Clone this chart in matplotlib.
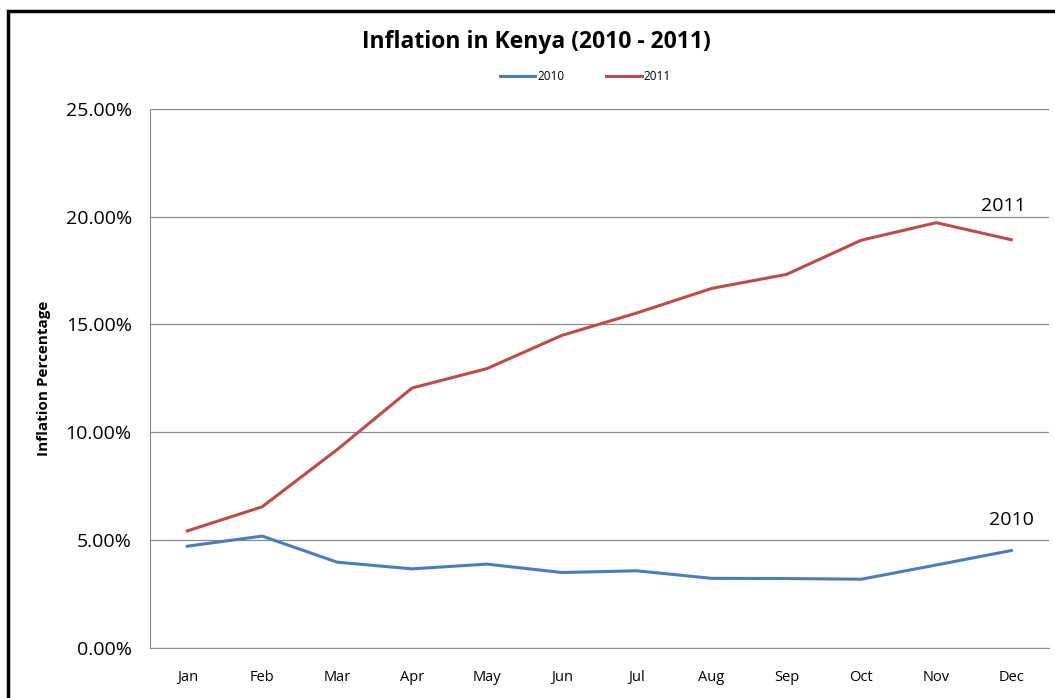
import matplotlib.pyplot as plt
from matplotlib.patches import Rectangle
from matplotlib.ticker import PercentFormatter

months = ['Jan', 'Feb', 'Mar', 'Apr', 'May', 'Jun', 'Jul', 'Aug', 'Sep', 'Oct', 'Nov', 'Dec']
infl_2010 = [4.71, 5.18, 3.97, 3.66, 3.88, 3.49, 3.57, 3.22, 3.21, 3.18, 3.84, 4.51]
infl_2011 = [5.42, 6.54, 9.19, 12.05, 12.95, 14.49, 15.53, 16.67, 17.32, 18.91, 19.72, 18.93]
yticks = [0, 5, 10, 15, 20, 25]

plt.rcParams['font.family'] = ['Open Sans', 'DejaVu Sans']

fig = plt.figure(figsize=(10.55, 6.98), dpi=100)
ax = fig.add_axes([0.142, 0.072, 0.852, 0.772])

# outer chart frame (only left and top edges visible)
fig.patches.append(Rectangle((0.008, -0.1), 1.2, 1.1 - 11 / 698, transform=fig.transFigure,
                             fill=False, edgecolor='black', linewidth=2.5))

x = range(len(months))
ax.plot(x, infl_2010, color='#4a7ebb', linewidth=2.2, label='2010')
ax.plot(x, infl_2011, color='#be4b48', linewidth=2.2, label='2011')

ax.text(11.19, infl_2011[-1] + 1.55, '2011', fontsize=14, ha='right', va='center')
ax.text(11.3, infl_2010[-1] + 1.42, '2010', fontsize=14, ha='right', va='center')

ax.set_xlim(-0.5, 11.5)
ax.set_ylim(0, 25)
ax.set_xticks(list(x))
ax.set_xticklabels(months, fontsize=10.5)
ax.set_yticks(yticks)
ax.yaxis.set_major_formatter(PercentFormatter(decimals=2))
ax.tick_params(axis='y', labelsize=14, length=0, pad=13)
ax.tick_params(axis='x', length=0, pad=16)
ax.grid(axis='y', color='#8c8c8c', linewidth=0.9)
ax.set_axisbelow(True)
for s in ['top', 'right']:
    ax.spines[s].set_visible(False)
ax.spines['left'].set_color('#8c8c8c')
ax.spines['bottom'].set_color('#8c8c8c')

ax.set_ylabel('Inflation Percentage', fontsize=11, fontweight='bold')
ax.yaxis.set_label_coords(-0.11, 0.5)

fig.text(0.508, 1 - 42 / 698, 'Inflation in Kenya (2010 - 2011)', fontsize=16.5, fontweight='bold',
         ha='center', va='center')
fig.legend(loc='center', bbox_to_anchor=(0.555, 1 - 77 / 698), ncol=2, frameon=False, fontsize=8.5,
           handlelength=3, columnspacing=3.5, handletextpad=0.2)

fig.savefig('out.png', dpi=100)
